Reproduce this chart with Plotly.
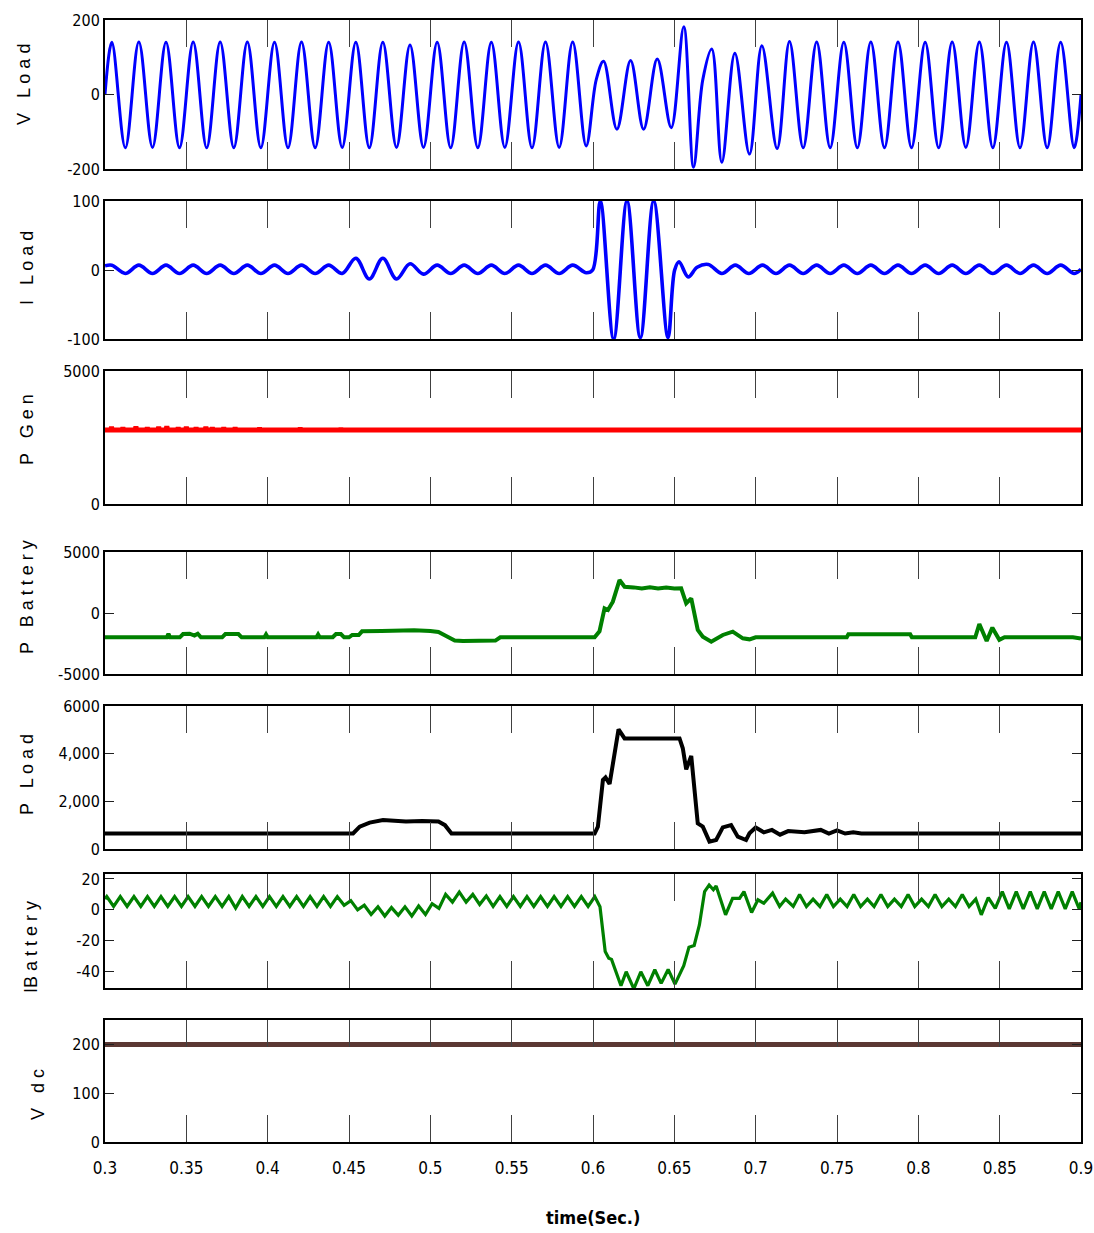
import plotly.graph_objects as go

# ---------------- data ----------------
X_TICKS = [0.3, 0.35, 0.4, 0.45, 0.5, 0.55, 0.6, 0.65, 0.7, 0.75, 0.8, 0.85, 0.9]
X_TICK_TEXT = ["0.3", "0.35", "0.4", "0.45", "0.5", "0.55", "0.6", "0.65", "0.7", "0.75", "0.8", "0.85", "0.9"]

V_LOAD_T = [
    0.3000, 0.3042, 0.3125, 0.3208, 0.3292, 0.3375, 0.3458, 0.3542, 0.3625, 0.3708,
    0.3792, 0.3875, 0.3958, 0.4042, 0.4125, 0.4208, 0.4292, 0.4375, 0.4458, 0.4542,
    0.4625, 0.4708, 0.4792, 0.4875, 0.4958, 0.5042, 0.5125, 0.5208, 0.5292, 0.5375,
    0.5458, 0.5542, 0.5625, 0.5708, 0.5792, 0.5875, 0.5958,
    0.6020, 0.6065, 0.6147, 0.6231, 0.6311, 0.6395, 0.6481, 0.6558, 0.6618, 0.6675,
    0.6730, 0.6792, 0.6872, 0.6962, 0.7038, 0.7132, 0.7208,
    0.7292, 0.7375, 0.7458, 0.7542, 0.7625, 0.7708, 0.7792, 0.7875, 0.7958, 0.8042,
    0.8125, 0.8208, 0.8292, 0.8375, 0.8458, 0.8542, 0.8625, 0.8708, 0.8792, 0.8875,
    0.8958, 0.9000]
V_LOAD_V = [
    0, 140, -143, 141, -142, 140, -143, 141, -143, 141,
    -143, 141, -143, 140, -143, 141, -143, 140, -142, 140,
    -143, 140, -142, 133, -142, 140, -143, 141, -143, 140,
    -142, 141, -143, 141, -142, 141, -138,
    40, 89, -93, 91, -93, 95, -89, 182, -195, 40,
    122, -182, 111, -160, 131, -145, 142,
    -143, 141, -143, 140, -143, 141, -143, 141, -143, 140,
    -143, 141, -142, 141, -143, 140, -143, 141, -143, 140,
    -143, 0]

I_LOAD_T = [
    0.3000, 0.3042, 0.3125, 0.3208, 0.3292, 0.3375, 0.3458, 0.3542, 0.3625, 0.3708,
    0.3792, 0.3875, 0.3958, 0.4042, 0.4125, 0.4208, 0.4292, 0.4375, 0.4458, 0.4542,
    0.4625, 0.4708, 0.4792, 0.4875, 0.4958, 0.5042, 0.5125, 0.5208, 0.5292, 0.5375,
    0.5458, 0.5542, 0.5625, 0.5708, 0.5792, 0.5875, 0.5958,
    0.5998, 0.6045, 0.6127, 0.6209, 0.6291, 0.6373, 0.6461, 0.6502, 0.6529, 0.6585, 0.6640,
    0.6709, 0.6792, 0.6875, 0.6958, 0.7042, 0.7125, 0.7208, 0.7292, 0.7375, 0.7458,
    0.7542, 0.7625, 0.7708, 0.7792, 0.7875, 0.7958, 0.8042, 0.8125, 0.8208, 0.8292,
    0.8375, 0.8458, 0.8542, 0.8625, 0.8708, 0.8792, 0.8875, 0.8958, 0.9000]
I_LOAD_V = [
    6, 7, -5, 7, -5, 7, -5, 7, -5, 7,
    -5, 7, -5, 7, -5, 7, -5, 7, -5, 17,
    -13, 17, -13, 9, -6, 7, -5, 7, -5, 7,
    -5, 7, -5, 7, -5, 7, -4,
    0, 100, -100, 100, -98, 100, -98, 0, 12, -10, 4,
    8, -5, 7, -5, 7, -5, 7, -5, 7, -5,
    7, -5, 7, -5, 7, -5, 7, -5, 7, -5,
    7, -5, 7, -5, 7, -5, 7, -5, 1]

P_GEN_T = [
    0.3000, 0.3035, 0.3040, 0.3045, 0.3105, 0.3110, 0.3115, 0.3185, 0.3190, 0.3195,
    0.3255, 0.3260, 0.3265, 0.3325, 0.3330, 0.3335, 0.3375, 0.3380, 0.3385, 0.3445,
    0.3450, 0.3455, 0.3495, 0.3500, 0.3505, 0.3555, 0.3560, 0.3565, 0.3615, 0.3620,
    0.3625, 0.3655, 0.3660, 0.3665, 0.3725, 0.3730, 0.3735, 0.3795, 0.3800, 0.3805,
    0.3945, 0.3950, 0.3955, 0.4195, 0.4200, 0.4205, 0.4445, 0.4450, 0.4455, 0.9000]
P_GEN_V = [
    2780, 2780, 2900, 2780, 2780, 2880, 2780, 2780, 2910, 2780,
    2780, 2880, 2780, 2780, 2900, 2780, 2780, 2920, 2780, 2780,
    2880, 2780, 2780, 2900, 2780, 2780, 2880, 2780, 2780, 2900,
    2780, 2780, 2880, 2780, 2780, 2880, 2780, 2780, 2870, 2780,
    2780, 2860, 2780, 2780, 2860, 2780, 2780, 2850, 2780, 2780]

P_BAT_T = [
    0.300, 0.338, 0.339, 0.340, 0.346, 0.348, 0.352, 0.355, 0.357, 0.359,
    0.372, 0.374, 0.382, 0.384, 0.398, 0.399, 0.400, 0.430, 0.431, 0.432,
    0.440, 0.442, 0.445, 0.447, 0.450, 0.452, 0.456, 0.458, 0.470, 0.480,
    0.490, 0.500, 0.505, 0.510, 0.515, 0.520, 0.540, 0.543, 0.601, 0.604,
    0.6071, 0.6092, 0.6122, 0.6163, 0.6194, 0.625, 0.630, 0.635, 0.640, 0.645,
    0.650, 0.6542, 0.6573, 0.6604, 0.6644, 0.6675, 0.6727, 0.6798, 0.6859, 0.6921,
    0.6962, 0.700, 0.756, 0.757, 0.795, 0.796, 0.835, 0.8375, 0.842, 0.8455,
    0.8498, 0.853, 0.895, 0.900]
P_BAT_V = [
    -1990, -1990, -1700, -1990, -1990, -1720, -1700, -1850, -1700, -1990,
    -1990, -1720, -1720, -1990, -1990, -1760, -1990, -1990, -1760, -1990,
    -1990, -1720, -1720, -1990, -1990, -1800, -1800, -1500, -1480, -1450,
    -1420, -1480, -1550, -1900, -2250, -2300, -2260, -1990, -1990, -1500,
    385, 250, 930, 2700, 2150, 2100, 2000, 2100, 2000, 2080,
    2000, 2025, 795, 1200, -1395, -1940, -2350, -1800, -1530, -2075,
    -2160, -1990, -1990, -1750, -1750, -1990, -1990, -900, -2300, -1200,
    -2200, -1990, -1990, -2100]

P_LOAD_T = [
    0.300, 0.4525, 0.4566, 0.4627, 0.4709, 0.475, 0.485, 0.495, 0.505, 0.509,
    0.513, 0.601, 0.603, 0.6061, 0.6077, 0.6102, 0.6133, 0.6157, 0.6194, 0.6532,
    0.6552, 0.6573, 0.6604, 0.6644, 0.6675, 0.6716, 0.6757, 0.6798, 0.6849, 0.6890,
    0.6941, 0.6962, 0.700, 0.705, 0.710, 0.715, 0.720, 0.730, 0.740, 0.745,
    0.750, 0.755, 0.760, 0.765, 0.900]
P_LOAD_V = [
    650, 650, 937, 1105, 1217, 1200, 1150, 1180, 1150, 1000,
    650, 650, 937, 2895, 3000, 2727, 4083, 5020, 4640, 4640,
    4225, 3340, 3900, 1075, 937, 307, 378, 909, 1007, 518,
    378, 657, 900, 700, 800, 600, 750, 700, 800, 650,
    780, 650, 700, 650, 650]

I_BAT_T = [
    0.3000, 0.3011, 0.3053, 0.3094, 0.3136, 0.3178, 0.3220, 0.3261, 0.3303, 0.3344,
    0.3386, 0.3428, 0.3470, 0.3511, 0.3553, 0.3594, 0.3636, 0.3678, 0.3720, 0.3761,
    0.3803, 0.3844, 0.3886, 0.3928, 0.3970, 0.4011, 0.4053, 0.4094, 0.4136, 0.4178,
    0.4220, 0.4261, 0.4303, 0.4344, 0.4386, 0.4428, 0.4470, 0.4511, 0.4553, 0.4594,
    0.4636, 0.4678, 0.4720, 0.4761, 0.4803, 0.4844, 0.4886, 0.4928, 0.4970, 0.5011,
    0.5053, 0.5094, 0.5136, 0.5178, 0.5220, 0.5261, 0.5303, 0.5344, 0.5386, 0.5428,
    0.5470, 0.5511, 0.5553, 0.5594, 0.5636, 0.5678, 0.5720, 0.5761, 0.5803, 0.5844,
    0.5886, 0.5928, 0.5970, 0.6011, 0.6043, 0.6075, 0.6097, 0.6114, 0.6172, 0.6204,
    0.6251, 0.6294, 0.6337, 0.6380, 0.6419, 0.6462, 0.6504, 0.6558, 0.6590, 0.6622,
    0.6654, 0.6686, 0.6714, 0.6740, 0.6757, 0.6815, 0.6858, 0.6901, 0.6928, 0.6975,
    0.7014, 0.7050, 0.7104, 0.7147, 0.7184, 0.7231, 0.7270, 0.7312, 0.7353, 0.7395,
    0.7437, 0.7478, 0.7520, 0.7562, 0.7603, 0.7645, 0.7687, 0.7728, 0.7770, 0.7812,
    0.7853, 0.7895, 0.7937, 0.7978, 0.8020, 0.8062, 0.8103, 0.8145, 0.8187, 0.8228,
    0.8270, 0.8312, 0.8353, 0.8387, 0.8430, 0.8473, 0.8516, 0.8559, 0.8602, 0.8645,
    0.8688, 0.8731, 0.8774, 0.8817, 0.8860, 0.8903, 0.8946, 0.8989, 0.9000]
I_BAT_V = [
    7, 8.6, 2.2, 8.6, 2.2, 8.6, 2.2, 8.6, 2.2, 8.6,
    2.2, 8.6, 2.2, 8.6, 2.2, 8.6, 2.2, 8.6, 2.2, 8.6,
    1.2, 8.6, 2.2, 8.6, 2.2, 8.6, 2.2, 8.6, 2.2, 8.6,
    2.2, 8.6, 2.2, 8.6, 2.2, 8.6, 3, 6, 0, 3,
    -3, 2, -4, 1.5, -3.5, 2, -4, 2.5, -3, 4,
    1, 10, 5, 11.5, 5, 10, 3.5, 9, 2.2, 8.6,
    2.2, 8.6, 2.2, 8.6, 2.2, 8.6, 2.2, 8.6, 2.2, 8.6,
    2.2, 8.6, 2.2, 8.6, 2, -26.9, -31.2, -32, -49, -40,
    -51, -40, -49, -38.7, -47.5, -38.5, -48, -36, -24.1, -23,
    -9.7, 11.8, 16.1, 13, 15.5, -3.2, 7.5, 7.5, 11.8, -1.7,
    6.5, 4.3, 10.8, 2.2, 7, 2.2, 10, 2.2, 7, 2.2,
    10, 2.2, 7, 2.2, 10, 2.2, 7, 2.2, 10, 2.2,
    7, 2.2, 10, 2.2, 7, 2.2, 10, 2.2, 7, 2.2,
    10, 2.2, 7, -3.2, 8, 1, 11.8, 0.6, 11.8, 0.6,
    11.8, 0.6, 11.8, 0.6, 11.8, 0.6, 11.8, 0.6, 5]

VDC_T = [0.3, 0.9]
VDC_V = [200, 200]

# ---------------- layout geometry (pixels of the reference) ----------------
W, H = 1094, 1233
PL, PR, PT, PB = 105, 1081, 20, 1142      # outer plotting region
PW, PH = PR - PL, PB - PT


def px_x(x):
    return (x - PL) / PW


def px_y(y):
    return (PB - y) / PH


panels = [
    dict(t=V_LOAD_T, v=V_LOAD_V, color="#0000ff", width=3.0, shape="spline",
         top=20, bot=169, rng=[-200, 200], tv=[-200, 0, 200], tt=["-200", "0", "200"],
         label="V   L o a d", lx=24, ly=85),
    dict(t=I_LOAD_T, v=I_LOAD_V, color="#0000ff", width=3.6, shape="spline",
         top=201, bot=339, rng=[-100, 100], tv=[-100, 0, 100], tt=["-100", "0", "100"],
         label="I   L o a d", lx=27, ly=268),
    dict(t=P_GEN_T, v=P_GEN_V, color="#ff0000", width=5, shape="linear",
         top=371, bot=504, rng=[0, 5000], tv=[0, 5000], tt=["0", "5000"],
         label="P   G e n", lx=27, ly=430),
    dict(t=P_BAT_T, v=P_BAT_V, color="#008000", width=4, shape="linear",
         top=552, bot=674, rng=[-5000, 5000], tv=[-5000, 0, 5000], tt=["-5000", "0", "5000"],
         label="P   B a t t e r y", lx=27, ly=597),
    dict(t=P_LOAD_T, v=P_LOAD_V, color="#000000", width=4, shape="linear",
         top=706, bot=849, rng=[0, 6000], tv=[0, 2000, 4000, 6000], tt=["0", "2,000", "4,000", "6000"],
         label="P   L o a d", lx=27, ly=775),
    dict(t=I_BAT_T, v=I_BAT_V, color="#008000", width=3.2, shape="linear",
         top=874, bot=988, rng=[-50.5, 23.2], tv=[-40, -20, 0, 20], tt=["-40", "-20", "0", "20"],
         label="IB a t t e r y", lx=31, ly=947),
    dict(t=VDC_T, v=VDC_V, color="#5b3833", width=5, shape="linear",
         top=1020, bot=1142, rng=[0, 250], tv=[0, 100, 200], tt=["0", "100", "200"],
         label="V   d c", lx=38, ly=1095),
]

TICK_FONT = dict(family="DejaVu Sans Condensed, Liberation Sans Narrow, Liberation Sans, sans-serif",
                 size=16, color="#000000")
LABEL_FONT = dict(family="Liberation Sans, Arial, sans-serif", size=18, color="#000000")

fig = go.Figure()
layout = dict(
    width=W, height=H,
    margin=dict(l=PL, r=W - PR, t=PT, b=H - PB, autoexpand=False),
    paper_bgcolor="white", plot_bgcolor="white",
    showlegend=False,
    annotations=[],
)

n = len(panels)
for i, p in enumerate(panels, start=1):
    xa = "x" if i == 1 else f"x{i}"
    ya = "y" if i == 1 else f"y{i}"
    fig.add_trace(go.Scatter(
        x=p["t"], y=p["v"], mode="lines", xaxis=xa, yaxis=ya,
        line=dict(color=p["color"], width=p["width"], shape=p["shape"]),
        hoverinfo="skip",
    ))
    last = (i == n)
    layout[f"xaxis{'' if i == 1 else i}"] = dict(
        domain=[0, 1], anchor=ya, range=[0.3, 0.9],
        tickmode="array", tickvals=X_TICKS, ticktext=X_TICK_TEXT,
        showticklabels=last, ticks="inside", ticklen=27, tickwidth=1, tickcolor="#404040",
        mirror="ticks", showline=True, linecolor="black", linewidth=2,
        showgrid=False, zeroline=False, tickfont=dict(TICK_FONT, size=17),
        ticklabelstandoff=10, automargin=False,
    )
    layout[f"yaxis{'' if i == 1 else i}"] = dict(
        domain=[px_y(p["bot"]), px_y(p["top"])], anchor=xa, range=p["rng"],
        tickmode="array", tickvals=p["tv"], ticktext=p["tt"],
        ticks="inside", ticklen=9, tickwidth=1, tickcolor="#202020",
        mirror="ticks", showline=True, linecolor="black", linewidth=2,
        showgrid=False, zeroline=False, tickfont=TICK_FONT, automargin=False,
    )
    layout["annotations"].append(dict(
        text=p["label"], xref="paper", yref="paper",
        x=px_x(p["lx"]), y=px_y(p["ly"]), xanchor="center", yanchor="middle",
        textangle=-90, showarrow=False, font=LABEL_FONT,
    ))

layout["annotations"].append(dict(
    text="<b>time(Sec.)</b>", xref="paper", yref="paper",
    x=px_x(593), y=px_y(1217), xanchor="center", yanchor="middle",
    showarrow=False, font=dict(TICK_FONT, size=18),
))

fig.update_layout(**layout)
fig.write_html(
    "out.html",
    config={"displayModeBar": False},
    post_script="document.body.style.margin='0';document.body.style.padding='0';",
)
